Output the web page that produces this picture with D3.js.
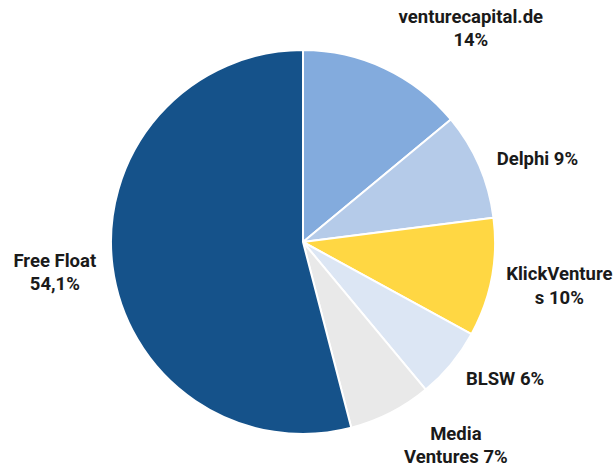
<!DOCTYPE html>
<html>
<head>
<meta charset="utf-8">
<script src="https://cdn.jsdelivr.net/npm/d3@7"></script>
<style>
  body { margin: 0; background: #fff; }
  svg { display: block; }
  .lbl { font-family: Roboto, "Liberation Sans", sans-serif; font-weight: bold; font-size: 18.5px; fill: #1a1a1a; }
</style>
</head>
<body>
<svg id="chart" width="616" height="470"></svg>
<script>
// shareholders, clockwise from 12 o'clock
const names = ["venturecapital.de", "Delphi", "KlickVentures", "BLSW", "Media Ventures", "Free Float"];
const shares = [14, 9, 10, 6, 7, 54.1];
const colors = ["#83abdd", "#b5cbe9", "#ffd743", "#dce6f4", "#e9e9e9", "#15528a"];

// label text as it wraps in the original
const labelLines = [
  ["venturecapital.de", "14%"],
  ["Delphi 9%"],
  ["KlickVenture", "s 10%"],
  ["BLSW 6%"],
  ["Media", "Ventures 7%"],
  ["Free Float", "54,1%"]
];
// where each label sits: angle (deg from top, clockwise) and distance from centre
const labelAngle = [38.1, 70.3, 99.6, 124.1, 143, 263.1];
const labelRadius = [272, 249, 260, 244, 254, 250];

const svg = d3.select("#chart");
const cx = 303, cy = 242, r = 192;
const lineH = 23.5;

const pie = d3.pie().sort(null).value(d => d);
const arc = d3.arc().innerRadius(0).outerRadius(r);

const g = svg.append("g").attr("transform", `translate(${cx},${cy})`);

g.selectAll("path.slice")
  .data(pie(shares))
  .enter()
  .append("path")
  .attr("class", "slice")
  .attr("d", arc)
  .attr("fill", (d, i) => colors[i])
  .attr("stroke", "#fff")
  .attr("stroke-width", 2)
  .attr("stroke-linejoin", "round");

// labels
const labels = g.selectAll("text.lbl")
  .data(names)
  .enter()
  .append("text")
  .attr("class", "lbl")
  .attr("text-anchor", "middle")
  .attr("transform", (d, i) => {
    const a = labelAngle[i] * Math.PI / 180;
    const x = Math.sin(a) * labelRadius[i];
    const y = -Math.cos(a) * labelRadius[i];
    return `translate(${x},${y})`;
  });

labels.each(function (d, i) {
  const lines = labelLines[i];
  const y0 = -(lines.length - 1) * lineH / 2 + 6.5;
  d3.select(this).selectAll("tspan")
    .data(lines)
    .enter()
    .append("tspan")
    .attr("x", 0)
    .attr("y", (t, j) => y0 + j * lineH)
    .text(t => t);
});
</script>
</body>
</html>
